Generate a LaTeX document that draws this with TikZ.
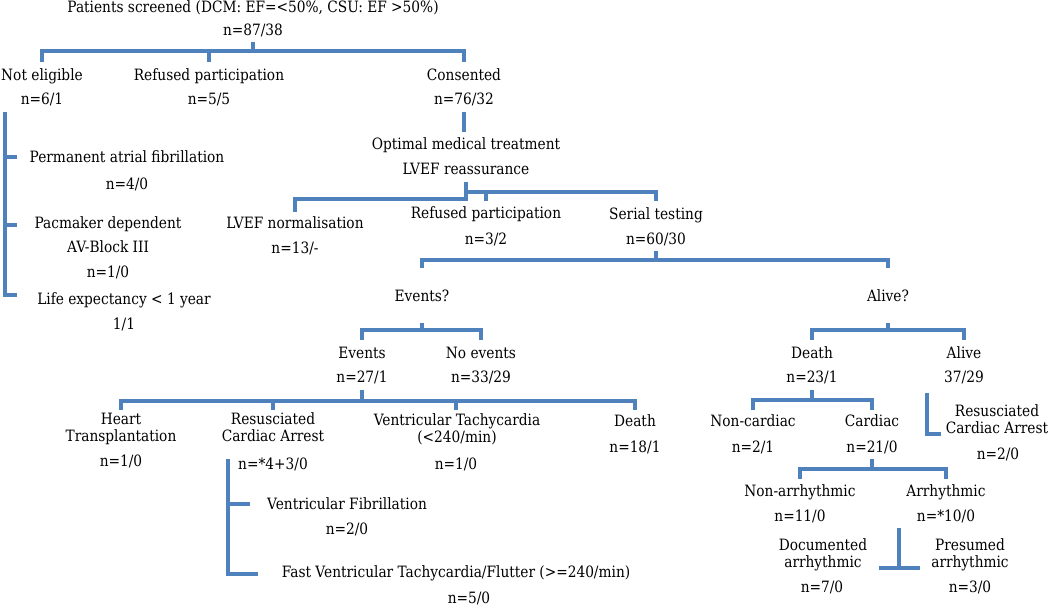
\documentclass[tikz,border=0pt]{standalone}
\usepackage{fontspec}
\setmainfont{DejaVu Serif}[FakeStretch=0.88]
\definecolor{bl}{RGB}{79,129,189}
\begin{document}
\begin{tikzpicture}[x=1pt,y=-1pt,
  conn/.style={draw=bl,line width=4pt},
  lbl/.style={inner sep=1pt,font=\fontsize{15.6}{17}\selectfont,align=center,
    execute at begin node=\strut,execute at end node=\strut}]
\useasboundingbox (0,0) rectangle (1050,609);
% ---- nodes
\node[lbl] (t0) at (253,9) {Patients screened (DCM: EF=<50\%, CSU: EF >50\%)};
\node[lbl] (n0) at (253,32) {n=87/38};
\node[lbl] (ne) at (42,77) {Not eligible};
\node[lbl] (nne) at (42,101) {n=6/1};
\node[lbl] (rp) at (209,77) {Refused participation};
\node[lbl] (nrp) at (209,101) {n=5/5};
\node[lbl] (co) at (464,77) {Consented};
\node[lbl] (nco) at (464,101) {n=76/32};
\node[lbl] (pa) at (127,159) {Permanent atrial fibrillation};
\node[lbl] (npa) at (127,186) {n=4/0};
\node[lbl] (pd) at (108,225) {Pacmaker dependent};
\node[lbl] (av) at (108,249) {AV-Block III};
\node[lbl] (npd) at (108,274) {n=1/0};
\node[lbl] (le) at (124,301) {Life expectancy < 1 year};
\node[lbl] (nle) at (124,326) {1/1};
\node[lbl] (om) at (466,146) {Optimal medical treatment};
\node[lbl] (lv) at (466,171) {LVEF reassurance};
\node[lbl] (ln) at (295,225) {LVEF normalisation};
\node[lbl] (nln) at (295,250) {n=13/-};
\node[lbl] (rp2) at (486,215) {Refused participation};
\node[lbl] (nrp2) at (486,241) {n=3/2};
\node[lbl] (st) at (656,216) {Serial testing};
\node[lbl] (nst) at (656,241) {n=60/30};
\node[lbl] (ev) at (422,298) {Events?};
\node[lbl] (al) at (888,298) {Alive?};
\node[lbl] (evs) at (362,355) {Events};
\node[lbl] (nevs) at (362,379) {n=27/1};
\node[lbl] (noev) at (481,355) {No events};
\node[lbl] (nnoev) at (481,379) {n=33/29};
\node[lbl] (dth) at (812,355) {Death};
\node[lbl] (ndth) at (812,379) {n=23/1};
\node[lbl] (alv) at (964,355) {Alive};
\node[lbl] (nalv) at (964,379) {37/29};
\node[lbl] (ht) at (121,430) {Heart\\Transplantation};
\node[lbl] (nht) at (121,463) {n=1/0};
\node[lbl] (rca) at (273,430) {Resusciated\\Cardiac Arrest};
\node[lbl] (nrca) at (273,466) {n=*4+3/0};
\node[lbl] (vt) at (457,431) {Ventricular Tachycardia\\(<240/min)};
\node[lbl] (nvt) at (456,466) {n=1/0};
\node[lbl] (dth2) at (635,423) {Death};
\node[lbl] (ndth2) at (635,449) {n=18/1};
\node[lbl] (vf) at (347,506) {Ventricular Fibrillation};
\node[lbl] (nvf) at (347,531) {n=2/0};
\node[lbl] (fvt) at (456,574) {Fast Ventricular Tachycardia/Flutter (>=240/min)};
\node[lbl] (nfvt) at (469,600) {n=5/0};
\node[lbl] (nc) at (753,423) {Non-cardiac};
\node[lbl] (nnc) at (753,449) {n=2/1};
\node[lbl] (ca) at (872,423) {Cardiac};
\node[lbl] (nca) at (872,449) {n=21/0};
\node[lbl] (rca2) at (997,422) {Resusciated\\Cardiac Arrest};
\node[lbl] (nrca2) at (998,456) {n=2/0};
\node[lbl] (na) at (800,493) {Non-arrhythmic};
\node[lbl] (nna) at (800,518) {n=11/0};
\node[lbl] (ar) at (946,493) {Arrhythmic};
\node[lbl] (nar) at (946,518) {n=*10/0};
\node[lbl] (doc) at (823,556) {Documented\\arrhythmic};
\node[lbl] (ndoc) at (822,589) {n=7/0};
\node[lbl] (pre) at (970,556) {Presumed\\arrhythmic};
\node[lbl] (npre) at (970,589) {n=3/0};
% ---- levels
\foreach \v in {42,51,62,112,132,182,192,199,201,212,251,260,268,323,330,340,390,400,401,410,459,469,479}
  \coordinate (c\v) at (0,\v);
% B1
\draw[conn] (n0 |- c42) -- (n0 |- c51);
\draw[conn] (ne |- c62) |- (co |- c51) -- (co |- c62);
\draw[conn] (rp |- c51) -- (rp |- c62);
% B2 not eligible
\coordinate (k0) at (5,112);
\coordinate (k1) at (17,157);
\coordinate (k2) at (17,225);
\coordinate (k3) at (17,295);
\draw[conn] (k0) |- (k3);
\draw[conn] (k0 |- k1) -- (k1);
\draw[conn] (k0 |- k2) -- (k2);
% B3
\draw[conn] (nco |- c112) -- (nco |- c132);
% B4
\draw[conn] (lv |- c182) -- (lv |- c199) -| (ln |- c212);
\draw[conn] (lv |- c192) -| (st |- c201);
\draw[conn] (rp2 |- c192) -- (rp2 |- c201);
% B5
\draw[conn] (nst |- c251) -- (nst |- c260);
\draw[conn] (ev |- c268) |- (al |- c260) -- (al |- c268);
% B6
\draw[conn] (ev |- c323) -- (ev |- c330);
\draw[conn] (evs |- c340) |- (noev |- c330) -- (noev |- c340);
% B7
\draw[conn] (al |- c323) -- (al |- c330);
\draw[conn] (dth |- c340) |- (alv |- c330) -- (alv |- c340);
% B8
\draw[conn] (nevs |- c390) -- (nevs |- c401);
\draw[conn] (ht |- c410) |- (dth2 |- c401) -- (dth2 |- c410);
\draw[conn] (rca |- c401) -- (rca |- c410);
\draw[conn] (nvt |- c401) -- (nvt |- c410);
% B9
\coordinate (r0) at (228,459);
\coordinate (r1) at (250,504);
\coordinate (r2) at (258,574);
\draw[conn] (r0) |- (r2);
\draw[conn] (r0 |- r1) -- (r1);
% B10
\draw[conn] (ndth |- c390) -- (ndth |- c400);
\draw[conn] (nc |- c410) |- (ca |- c400) -- (ca |- c410);
% B11
\coordinate (a0) at (927,393);
\coordinate (a1) at (941,434);
\draw[conn] (a0) |- (a1);
% B12
\draw[conn] (nca |- c459) -- (nca |- c469);
\draw[conn] (na |- c479) |- (ar |- c469) -- (ar |- c479);
% B13
\coordinate (d0) at (899,528);
\coordinate (d1) at (879,568);
\coordinate (d2) at (920,568);
\draw[conn] (d0) -- (d0 |- d1);
\draw[conn] (d1) -- (d2);
\end{tikzpicture}
\end{document}
